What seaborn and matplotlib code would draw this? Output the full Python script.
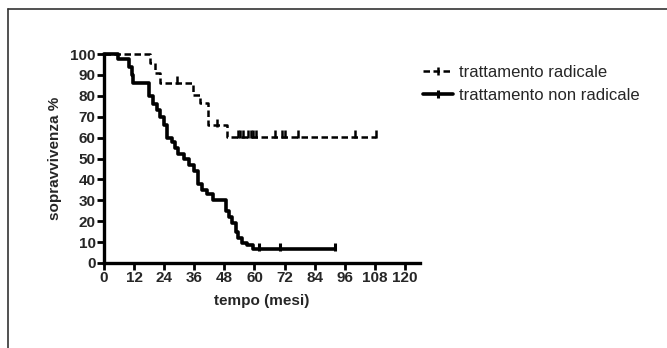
import numpy as np
import pandas as pd
import seaborn as sns
import matplotlib.pyplot as plt
from matplotlib.lines import Line2D

# curve step points (months, % surviving)
rad_t = [0, 18.5, 20.3, 22.3, 35.6, 38.3, 41.3, 49.0, 108.4]
rad_s = [100, 95.5, 90.7, 86.3, 80.5, 76.4, 66.0, 60.5, 60.5]
rad_cens_t = [29, 45, 53.3, 54.2, 55.3, 57.5, 58.5, 59.5, 60.5, 68.2, 70.8, 72.2, 77.5, 100, 108.4]

non_t = [0, 5.5, 10, 11, 11.5, 18, 19.5, 21, 22.5, 24, 25, 27, 28.5, 29.5, 32, 34, 36,
         37.5, 39, 41, 43.5, 48.5, 50, 51, 52.5, 53.5, 55, 57, 59.5, 92.3]
non_s = [100, 97.5, 94, 90, 86, 80, 76, 73, 70, 66, 60, 58, 55, 52, 50, 47, 44,
         38, 35, 33, 30, 25, 22, 19, 15, 12, 9.5, 8.5, 6.6, 6.6]
non_cens_t = [62, 70, 92.3]

labels = ['trattamento radicale', 'trattamento non radicale']
x_ticks = list(range(0, 121, 12))
y_ticks = list(range(0, 101, 10))


def surv_at(ts, ss, t):
    i = np.searchsorted(ts, t, side='right') - 1
    return ss[i]


sns.set_theme(style='white')
plt.rcParams['font.family'] = ['Liberation Sans', 'DejaVu Sans']

fig = plt.figure(figsize=(6.67, 3.48), dpi=100)
ax = fig.add_axes([104/667, 1-263/348, (420-104)/667, (263-54)/348])

df_rad = pd.DataFrame({'t': rad_t, 's': rad_s})
df_non = pd.DataFrame({'t': non_t, 's': non_s})

sns.lineplot(data=df_rad, x='t', y='s', ax=ax, drawstyle='steps-post', color='black',
             lw=1.8, dashes=False, estimator=None, sort=False)
ax.lines[-1].set_dashes((2.6, 1.4))
sns.lineplot(data=df_non, x='t', y='s', ax=ax, drawstyle='steps-post', color='black',
             lw=2.6, estimator=None, sort=False)

cr = pd.DataFrame({'t': rad_cens_t, 's': [surv_at(rad_t, rad_s, t) + 1.2 for t in rad_cens_t]})
cn = pd.DataFrame({'t': non_cens_t, 's': [surv_at(non_t, non_s, t) + 1.2 for t in non_cens_t]})
sns.scatterplot(data=cr, x='t', y='s', ax=ax, marker='|', s=40, color='black', linewidth=1.8)
sns.scatterplot(data=cn, x='t', y='s', ax=ax, marker='|', s=40, color='black', linewidth=2.2)

ax.set_xlim(0, 126)
ax.set_ylim(0, 100)
ax.set_xticks(x_ticks)
ax.set_yticks(y_ticks)
ax.tick_params(axis='both', which='major', direction='out', length=5, width=2,
               labelsize=11, pad=1, color='black', bottom=True, left=True)
for lab in ax.get_xticklabels() + ax.get_yticklabels():
    lab.set_fontweight('bold')
for sp in ['top', 'right']:
    ax.spines[sp].set_visible(False)
for sp in ['left', 'bottom']:
    ax.spines[sp].set_linewidth(2.4)
    ax.spines[sp].set_color('black')
ax.set_xlabel('tempo (mesi)', fontsize=11, fontweight='bold', labelpad=6)
ax.set_ylabel('sopravvivenza %', fontsize=11, fontweight='bold', labelpad=6)
for ln in ax.lines:
    ln.set_clip_on(False)
for c in ax.collections:
    c.set_clip_on(False)

handles = [Line2D([], [], color='black', lw=1.8, ls=(0, (2.6, 1.4)), marker='|', ms=6, mew=1.8),
           Line2D([], [], color='black', lw=2.6, marker='|', ms=6, mew=2.2)]
fig.legend(handles, labels, loc='upper left', bbox_to_anchor=(416/667, 1-58/348),
           frameon=False, fontsize=12, numpoints=1, handlelength=1.8,
           handletextpad=0.4, labelspacing=0.5, borderaxespad=0)

# frame lines of the original figure box
fig.add_artist(Line2D([8/667, 1], [1-9/348, 1-9/348], color='#333333', lw=1.2))
fig.add_artist(Line2D([8/667, 8/667], [0, 1-9/348], color='#333333', lw=1.2))

fig.savefig('out.png', dpi=100)
